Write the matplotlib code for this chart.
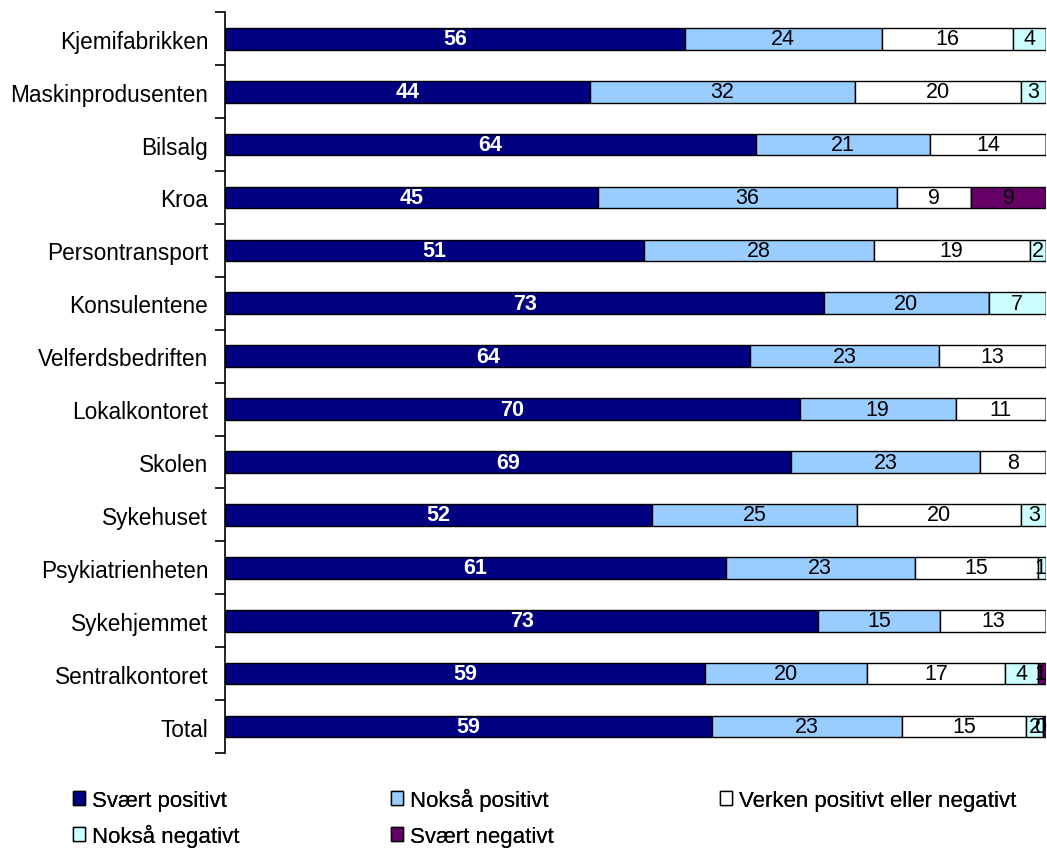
import matplotlib.pyplot as plt
import numpy as np

plt.rcParams["font.family"] = ["Liberation Sans", "DejaVu Sans"]

categories = [
    "Kjemifabrikken", "Maskinprodusenten", "Bilsalg", "Kroa", "Persontransport",
    "Konsulentene", "Velferdsbedriften", "Lokalkontoret", "Skolen", "Sykehuset",
    "Psykiatrienheten", "Sykehjemmet", "Sentralkontoret", "Total",
]
series_names = [
    "Svært positivt", "Nokså positivt", "Verken positivt eller negativt",
    "Nokså negativt", "Svært negativt",
]
svaert_pos = [56, 44, 64, 45, 51, 73, 64, 70, 69, 52, 61, 73, 59, 59]
noksa_pos = [24, 32, 21, 36, 28, 20, 23, 19, 23, 25, 23, 15, 20, 23]
verken = [16, 20, 14, 9, 19, 0, 13, 11, 8, 20, 15, 13, 17, 15]
noksa_neg = [4, 3, 0, 0, 2, 7, 0, 0, 0, 3, 1, 0, 4, 2]
svaert_neg = [0, 0, 0, 9, 0, 0, 0, 0, 0, 0, 0, 0, 1, 0.4]

colors = ["#000080", "#99CCFF", "#FFFFFF", "#CCFFFF", "#660066"]

data = np.array([svaert_pos, noksa_pos, verken, noksa_neg, svaert_neg], dtype=float)
pct = data / data.sum(axis=0) * 100

fig = plt.figure(figsize=(10.47, 8.53), dpi=100)
ax = fig.add_axes([225 / 1047, 1 - 754 / 853, 1 - 225 / 1047 - 1 / 1047, (754 - 13.3) / 853])

y = np.arange(len(categories))
left = np.zeros(len(categories))
handles = []
for i, name in enumerate(series_names):
    bars = ax.barh(y, pct[i], left=left, height=0.41, color=colors[i],
                   edgecolor="black", linewidth=1.0, label=name)
    handles.append(bars)
    for j in range(len(categories)):
        if data[i, j] > 0:
            cx = min(left[j] + pct[i, j] / 2, 99.3)
            if i == 0:
                ax.text(cx, y[j], f"{data[i, j]:.0f}", ha="center", va="center",
                        color="white", fontweight="bold", fontsize=15.5)
            else:
                ax.text(cx, y[j], f"{data[i, j]:.0f}", ha="center", va="center",
                        color="black", fontsize=15.5)
    left += pct[i]

ax.set_xlim(0, 100)
ax.set_ylim(len(categories) - 0.5, -0.5)
ax.set_yticks(y)
ax.set_yticklabels(categories, fontsize=16.3)
ax.set_yticks(np.arange(-0.5, len(categories)), minor=True)
ax.tick_params(axis="y", which="major", length=0, pad=12)
ax.tick_params(axis="y", which="minor", length=7, width=1.2, direction="out")
ax.set_xticks([])
for side in ["top", "right", "bottom"]:
    ax.spines[side].set_visible(False)
ax.spines["left"].set_linewidth(1.2)

# legend entries placed in a 3-column grid, filled row by row
legend_pos = [(73, 812), (391, 812), (720, 812), (73, 848), (391, 848)]
for k, (xpix, ypix) in enumerate(legend_pos):
    leg = fig.legend(handles=[handles[k]], labels=[series_names[k]],
                     loc="lower left", bbox_to_anchor=(xpix / 1047, 1 - ypix / 853),
                     frameon=False, fontsize=16, handlelength=0.55, handleheight=0.55,
                     handletextpad=0.3, borderpad=0, borderaxespad=0)
    fig.add_artist(leg)

fig.savefig("out.png", dpi=100)
